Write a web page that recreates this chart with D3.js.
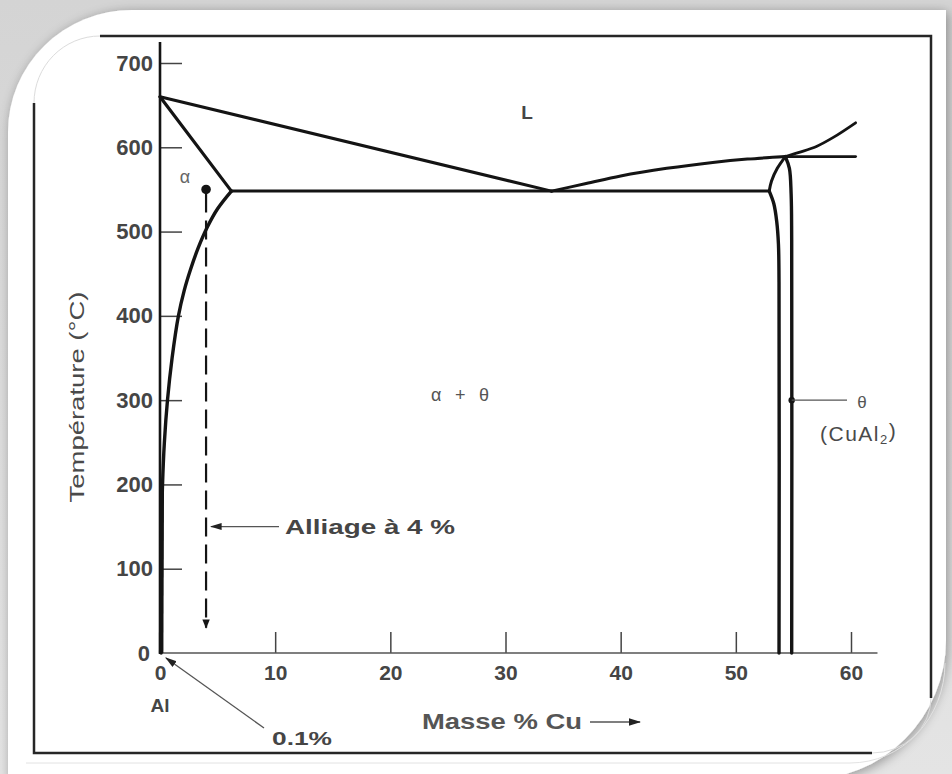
<!DOCTYPE html>
<html><head><meta charset="utf-8">
<script src="https://cdn.jsdelivr.net/npm/d3@7"></script>
<style>body{margin:0;background:#fff}svg{display:block}</style>
</head><body>
<svg id="c" width="952" height="774"></svg>
<script>
// ---- data (mass % Cu, temperature °C) ----
const xTicks = [0, 10, 20, 30, 40, 50, 60];
const yTicks = [0, 100, 200, 300, 400, 500, 600, 700];
const liquidusAl = [[0, 660], [34, 548]];
const solidusAlpha = [[0, 660], [6.2, 548]];
const eutecticLine = [[6.2, 548], [52.9, 548]];
const liquidusTheta = [[34, 548], [37, 557], [40, 566], [44, 575], [48, 582], [51, 586], [54.3, 589]];
const liquidusUpper = [[54.3, 589], [55.5, 594], [57, 601], [58.5, 612], [60.4, 629]];
const peritecticLine = [[54.3, 589], [60.4, 589]];
const solvusAlpha = [[6.2, 548], [5.0, 527], [4.1, 505], [3.3, 480], [2.65, 455], [2.1, 430], [1.6, 400], [1.05, 350], [0.65, 300], [0.38, 250], [0.22, 200], [0.15, 150], [0.1, 0]];
const thetaLeftTop = [[54.3, 589], [53.6, 575], [53.1, 560], [52.9, 548]];
const thetaLeft = [[52.9, 548], [53.3, 533], [53.55, 512], [53.7, 485], [53.75, 440], [53.75, 0]];
const thetaRight = [[54.3, 589], [54.65, 575], [54.8, 545], [54.85, 490], [54.85, 0]];
const alloy = {cu: 4, tStart: 550, tEnd: 30, tLabel: 150, label: "Alliage à 4 %"};
const thetaMark = {cu: 54.85, t: 300};

const svg = d3.select("#c");
const x = d3.scaleLinear().domain([0, 60]).range([160, 851]);
const y = d3.scaleLinear().domain([0, 700]).range([653, 63]);
const ink = "#141414", txt = "#454545";
const font = "'Liberation Sans', Arial, sans-serif";

// ---- decorative background / card ----
const defs = svg.append("defs");
const f = defs.append("filter").attr("id", "sh").attr("x", "-10%").attr("y", "-10%").attr("width", "130%").attr("height", "130%");
f.append("feGaussianBlur").attr("in", "SourceAlpha").attr("stdDeviation", 6).attr("result", "b");
f.append("feOffset").attr("in", "b").attr("dx", 2).attr("dy", 2).attr("result", "o");
f.append("feComponentTransfer").attr("in", "o").attr("result", "o2").append("feFuncA").attr("type", "linear").attr("slope", 0.35);
const m = f.append("feMerge"); m.append("feMergeNode").attr("in", "o2"); m.append("feMergeNode").attr("in", "SourceGraphic");
const g1 = defs.append("linearGradient").attr("id", "bg").attr("x1", 0).attr("y1", 0).attr("x2", 0).attr("y2", 1);
g1.append("stop").attr("offset", "0").attr("stop-color", "#d4d4d4");
g1.append("stop").attr("offset", "1").attr("stop-color", "#e4e4e4");
svg.append("rect").attr("width", 952).attr("height", 774).attr("fill", "url(#bg)");
svg.append("path").attr("fill", "#fff").attr("filter", "url(#sh)")
  .attr("d", "M8,132 A124,122 0 0 1 132,10 L946,10 L946,640 A140,140 0 0 1 806,780 L8,780 Z");
svg.append("path").attr("fill", "none").attr("stroke", "#e2e2e2").attr("stroke-width", 1)
  .attr("d", "M26,763 L850,763 A95,100 0 0 0 945,663");
// frame
svg.append("path").attr("fill", "none").attr("stroke", "#262626").attr("stroke-width", 2.5)
  .attr("d", "M34,103 L34,753 L872,753 M100,36 L931,36 L931,698");
svg.append("path").attr("fill", "none").attr("stroke", "#dcdcdc").attr("stroke-width", 1)
  .attr("d", "M34,103 A66,67 0 0 1 100,36 M931,698 A59,55 0 0 1 872,753");

// ---- axes ----
const xAxis = d3.axisBottom(x).tickValues(xTicks).tickSize(-21).tickPadding(12).tickSizeOuter(0);
const gx = svg.append("g").attr("transform", `translate(0,${y(0)})`).call(xAxis);
gx.select(".domain").remove();
gx.selectAll(".tick line").attr("stroke", "#444").attr("stroke-width", 1.5);
gx.selectAll(".tick").filter(d => d === 0).select("line").remove();
gx.selectAll(".tick text").attr("font-family", font).attr("font-size", 21).attr("font-weight", "bold").attr("fill", txt);
svg.append("line").attr("x1", x(0)).attr("x2", x(62.3)).attr("y1", y(0)).attr("y2", y(0))
  .attr("stroke", "#555").attr("stroke-width", 1.6);

const yAxis = d3.axisLeft(y).tickValues(yTicks).tickSize(-22).tickPadding(7).tickSizeOuter(0);
const gy = svg.append("g").attr("transform", `translate(${x(0)},0)`).call(yAxis);
gy.select(".domain").remove();
gy.selectAll(".tick line").attr("stroke", "#444").attr("stroke-width", 1.5);
gy.selectAll(".tick").filter(d => d === 0).select("line").remove();
gy.selectAll(".tick text").attr("font-family", font).attr("font-size", 22).attr("font-weight", "bold").attr("fill", txt);
gy.selectAll(".tick").filter(d => d === 0).select("text").attr("x", -10);
svg.append("line").attr("x1", x(0)).attr("x2", x(0)).attr("y1", y(0) + 1).attr("y2", y(725))
  .attr("stroke", ink).attr("stroke-width", 2.6);

// ---- phase boundaries ----
const line = d3.line().x(d => x(d[0])).y(d => y(d[1]));
const curve = d3.line().x(d => x(d[0])).y(d => y(d[1])).curve(d3.curveCatmullRom.alpha(0.5));
function draw(data, gen, w) {
  svg.append("path").datum(data).attr("d", gen).attr("fill", "none").attr("stroke", ink)
    .attr("stroke-width", w).attr("stroke-linejoin", "round").attr("stroke-linecap", "round");
}
draw(liquidusAl, line, 3);
draw(solidusAlpha, line, 3.2);
draw(eutecticLine, line, 3);
draw(liquidusTheta, curve, 3);
draw(liquidusUpper, curve, 2.8);
draw(peritecticLine, line, 2.8);
draw(solvusAlpha, curve, 3.4);
draw(thetaLeftTop, curve, 3);
draw(thetaLeft, curve, 3.4);
draw(thetaRight, curve, 3.4);
svg.append("path").datum([[0.1, 0], [0.15, 200]]).attr("d", line).attr("stroke", ink).attr("stroke-width", 4.5);

// ---- arrow markers ----
defs.append("marker").attr("id", "ah").attr("viewBox", "0 0 10 10").attr("refX", 9).attr("refY", 5)
  .attr("markerWidth", 4.2).attr("markerHeight", 4.2).attr("markerUnits", "strokeWidth").attr("orient", "auto")
  .append("path").attr("d", "M0,1 L10,5 L0,9 Z").attr("fill", ink);
defs.append("marker").attr("id", "ahs").attr("viewBox", "0 0 10 10").attr("refX", 9).attr("refY", 5)
  .attr("markerWidth", 9).attr("markerHeight", 9).attr("markerUnits", "strokeWidth").attr("orient", "auto")
  .append("path").attr("d", "M0,2 L10,5 L0,8 Z").attr("fill", "#222");

// alloy 4%
svg.append("circle").attr("cx", x(alloy.cu)).attr("cy", y(alloy.tStart)).attr("r", 4.8).attr("fill", ink);
svg.append("line").attr("x1", x(alloy.cu)).attr("x2", x(alloy.cu)).attr("y1", y(alloy.tStart) + 4).attr("y2", y(alloy.tEnd))
  .attr("stroke", ink).attr("stroke-width", 2.2).attr("stroke-dasharray", "19,8").attr("marker-end", "url(#ah)");
svg.append("line").attr("x1", 279).attr("x2", x(alloy.cu) + 5).attr("y1", y(alloy.tLabel)).attr("y2", y(alloy.tLabel))
  .attr("stroke", "#555").attr("stroke-width", 1.3).attr("marker-end", "url(#ahs)");

// theta marker
svg.append("circle").attr("cx", x(thetaMark.cu)).attr("cy", y(thetaMark.t)).attr("r", 3.2).attr("fill", ink);
svg.append("line").attr("x1", x(thetaMark.cu)).attr("x2", 847).attr("y1", y(thetaMark.t)).attr("y2", y(thetaMark.t))
  .attr("stroke", "#555").attr("stroke-width", 1.2);

// 0.1% leader
svg.append("line").attr("x1", 264).attr("y1", 728).attr("x2", 166).attr("y2", 658)
  .attr("stroke", "#555").attr("stroke-width", 1.3).attr("marker-end", "url(#ahs)");

// Masse % Cu arrow
svg.append("line").attr("x1", 590).attr("x2", 640).attr("y1", 722).attr("y2", 722)
  .attr("stroke", "#555").attr("stroke-width", 1.4).attr("marker-end", "url(#ahs)");

// ---- labels ----
function label(t, px, py, size, opts = {}) {
  const e = svg.append("text").attr("x", px).attr("y", py).attr("dy", "0.36em").attr("font-family", font)
    .attr("font-size", size).attr("fill", opts.fill || txt).attr("font-weight", opts.weight || "normal")
    .attr("text-anchor", opts.anchor || "middle");
  if (opts.len) e.attr("textLength", opts.len).attr("lengthAdjust", opts.adj || "spacingAndGlyphs");
  if (opts.rot) e.attr("transform", `rotate(${opts.rot},${px},${py})`);
  e.text(t);
  return e;
}
label("L", 527, 112, 19, {weight: "bold"});
label("α", 185, 177, 18, {fill: "#666"});
label("α + θ", 460, 395, 18, {fill: "#555", len: 58, adj: "spacing"});
label("θ", 862, 402, 17, {fill: "#555"});
const cu = svg.append("text").attr("x", 820).attr("y", 433).attr("dy", "0.36em").attr("font-family", font)
  .attr("font-size", 21).attr("fill", "#4a4a4a").attr("letter-spacing", 1.5);
cu.append("tspan").text("(CuAl");
cu.append("tspan").attr("font-size", 13).attr("dy", "0.3em").text("2");
cu.append("tspan").attr("dy", "-0.3em").text(")");
label("Al", 160, 705, 19, {weight: "bold"});
label("0.1%", 272, 738, 19, {weight: "bold", anchor: "start", len: 60});
label("Masse % Cu", 422, 721, 22, {anchor: "start", len: 160, weight: "bold", fill: "#555"});
label(alloy.label, 285, y(alloy.tLabel), 21, {anchor: "start", len: 170, weight: "bold"});
label("Température (°C)", 77, 397, 20, {rot: -90, len: 211, fill: "#4a4a4a"});
</script>
</body></html>
